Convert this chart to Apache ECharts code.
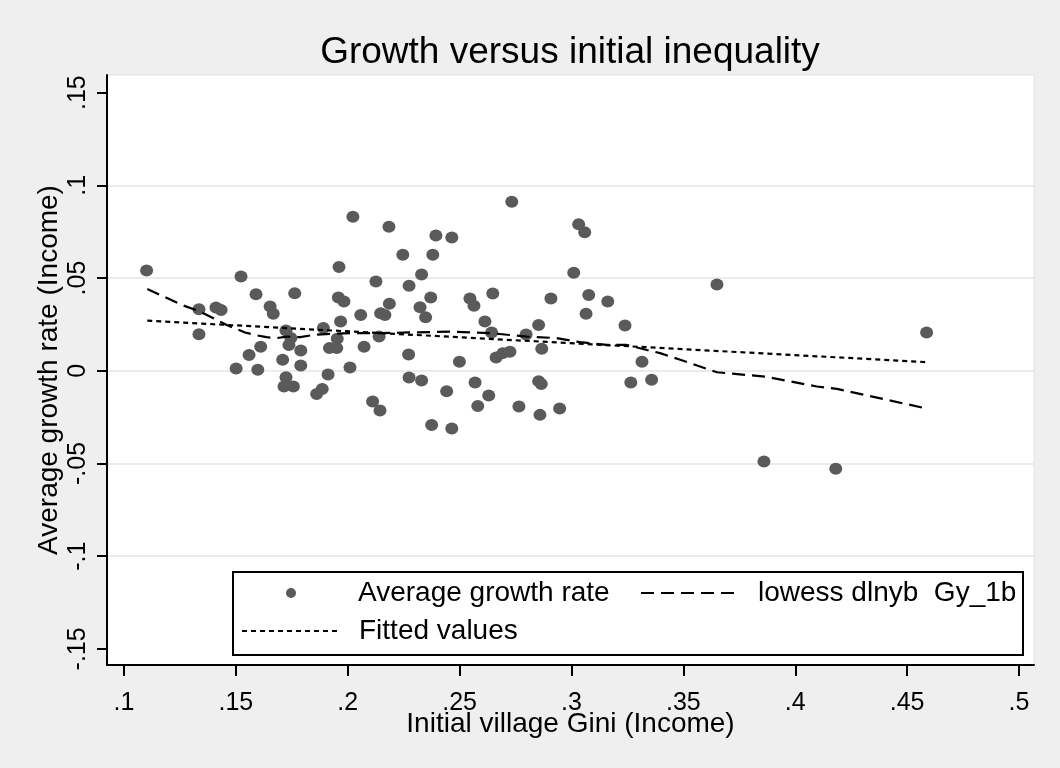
<!DOCTYPE html>
<html>
<head>
<meta charset="utf-8">
<script src="https://cdn.jsdelivr.net/npm/echarts@6/dist/echarts.min.js"></script>
<style>
  html, body { margin: 0; padding: 0; background: #efefef; }
  #chart { width: 1060px; height: 768px; }
</style>
</head>
<body>
<div id="chart"></div>
<script>
// Village observations: initial Gini (x) and average income growth (y)
const giniX = [
  0.1101, 0.1335, 0.1335, 0.1411, 0.1434, 0.1523, 0.1590, 0.1653, 0.1667, 0.1763,
  0.1961, 0.1958, 0.1983, 0.2126, 0.2186, 0.2058, 0.2147, 0.2166, 0.1968, 0.1724,
  0.1746, 0.1737, 0.1891, 0.1953, 0.1918, 0.1951, 0.2140, 0.2073, 0.1611, 0.1790,
  0.1559, 0.1709, 0.1790, 0.1501, 0.1598, 0.2010, 0.1724, 0.1715, 0.1757, 0.1912,
  0.1886, 0.1861, 0.2111, 0.2144, 0.2733, 0.3032, 0.3059, 0.2394, 0.2465, 0.2246,
  0.2380, 0.2330, 0.3010, 0.2274, 0.2371, 0.2323, 0.2348, 0.2546, 0.2564, 0.2648,
  0.2613, 0.2643, 0.2908, 0.3077, 0.3162, 0.3065, 0.3239, 0.2853, 0.2797, 0.2867,
  0.2272, 0.2499, 0.2663, 0.2693, 0.2725, 0.3315, 0.2274, 0.2330, 0.2442, 0.2569,
  0.2630, 0.2581, 0.2853, 0.2865, 0.2765, 0.2859, 0.2947, 0.3265, 0.3358, 0.2375,
  0.2465, 0.3650, 0.4587, 0.3860, 0.4181, 0.2023, 0.2184
];
const growthY = [
  0.0540, 0.0332, 0.0197, 0.0341, 0.0328, 0.0508, 0.0413, 0.0346, 0.0307, 0.0418,
  0.0559, 0.0395, 0.0373, 0.0481, 0.0361, 0.0301, 0.0310, 0.0301, 0.0265, 0.0217,
  0.0176, 0.0139, 0.0230, 0.0172, 0.0122, 0.0122, 0.0184, 0.0130, 0.0130, 0.0109,
  0.0085, 0.0059, 0.0028, 0.0012, 0.0005, 0.0017, -0.0035, -0.0085, -0.0085, -0.0020,
  -0.0098, -0.0125, -0.0166, -0.0215, 0.0912, 0.0790, 0.0747, 0.0729, 0.0718, 0.0626,
  0.0626, 0.0519, 0.0529, 0.0458, 0.0395, 0.0343, 0.0289, 0.0389, 0.0350, 0.0416,
  0.0265, 0.0206, 0.0389, 0.0409, 0.0373, 0.0307, 0.0244, 0.0247, 0.0195, 0.0119,
  0.0087, 0.0049, 0.0071, 0.0095, 0.0102, 0.0049, -0.0037, -0.0053, -0.0110, -0.0064,
  -0.0134, -0.0190, -0.0056, -0.0071, -0.0193, -0.0238, -0.0204, -0.0064, -0.0048, -0.0292,
  -0.0312, 0.0465, 0.0206, -0.0490, -0.0528, 0.0830, 0.0776
];

// Lowess smoother of growth on initial Gini
const lowessX = [
  0.1104, 0.1258, 0.1340, 0.1459, 0.1541, 0.1585, 0.1637, 0.1682, 0.1727, 0.1787,
  0.1846, 0.1921, 0.2010, 0.2144, 0.2457, 0.2636, 0.2800, 0.2934, 0.3038, 0.3158,
  0.3247, 0.3337, 0.3396, 0.3486, 0.3650, 0.3866, 0.4097, 0.4186, 0.4596
];
const lowessY = [
  0.0441, 0.0355, 0.0319, 0.0247, 0.0206, 0.0193, 0.0181, 0.0176, 0.0184, 0.0181,
  0.0193, 0.0199, 0.0203, 0.0203, 0.0211, 0.0203, 0.0184, 0.0176, 0.0154, 0.0139,
  0.0139, 0.0112, 0.0095, 0.0059, -0.0008, -0.0032, -0.0085, -0.0098, -0.0206
];

// Linear fit (fitted values at the ends of the Gini range)
const fitX = [0.1104, 0.4596];
const fitY = [0.0270, 0.0046];

// Axis ticks and their labels
const xTicks = [0.1, 0.15, 0.2, 0.25, 0.3, 0.35, 0.4, 0.45, 0.5];
const xTickLabels = ['.1', '.15', '.2', '.25', '.3', '.35', '.4', '.45', '.5'];
const yTicks = [-0.15, -0.1, -0.05, 0, 0.05, 0.1, 0.15];
const yTickLabels = ['-.15', '-.1', '-.05', '0', '.05', '.1', '.15'];

const FONT = '"Liberation Sans", Arial, Helvetica, sans-serif';

function tickText(ticks, labels) {
  return function (v) {
    for (let i = 0; i < ticks.length; i++) {
      if (Math.abs(ticks[i] - v) < 1e-9) return labels[i];
    }
    return '';
  };
}

const zip = (xs, ys) => xs.map((x, i) => [x, ys[i]]);

// grid lines only on the inner ticks, not on the +/-.15 ends
const gridColors = yTicks.map((t, i) =>
  (i === 0 || i === yTicks.length - 1) ? 'rgba(0,0,0,0)' : '#e4e4e4');

const legendText = { fontFamily: FONT, fontSize: 28, color: '#000', lineHeight: 30 };
const hiddenSymbol = { color: 'rgba(0,0,0,0)', borderWidth: 0, opacity: 0 };

const chart = echarts.init(document.getElementById('chart'), null, { renderer: 'canvas' });

chart.setOption({
  animation: false,
  backgroundColor: '#efefef',
  textStyle: { fontFamily: FONT, color: '#000' },
  title: {
    text: 'Growth versus initial inequality',
    left: 570,
    top: 34,
    padding: 0,
    textAlign: 'center',
    textStyle: { fontFamily: FONT, fontSize: 37, fontWeight: 'normal', color: '#000' }
  },
  grid: {
    left: 107, right: 26, top: 75, bottom: 103,
    show: true,
    backgroundColor: '#ffffff',
    borderColor: '#e3e3e3',
    borderWidth: 1
  },
  xAxis: {
    type: 'value',
    min: 0.0924,
    max: 0.5067,
    name: 'Initial village Gini (Income)',
    nameLocation: 'middle',
    nameGap: 45,
    nameMoveOverlap: false,
    nameTextStyle: { fontFamily: FONT, fontSize: 28, color: '#000' },
    axisLine: { show: true, onZero: false, lineStyle: { color: '#000', width: 2 } },
    axisTick: { show: true, length: 11, lineStyle: { color: '#000', width: 2 }, customValues: xTicks },
    axisLabel: {
      customValues: xTicks,
      margin: 26,
      fontFamily: FONT, fontSize: 25, color: '#000',
      formatter: tickText(xTicks, xTickLabels)
    },
    splitLine: { show: false }
  },
  yAxis: {
    type: 'value',
    min: -0.1587,
    max: 0.1595,
    name: 'Average growth rate (Income)',
    nameLocation: 'middle',
    nameGap: 44,
    nameMoveOverlap: false,
    nameTextStyle: { fontFamily: FONT, fontSize: 28, color: '#000' },
    axisLine: { show: true, onZero: false, lineStyle: { color: '#000', width: 2 } },
    axisTick: { show: true, length: 10, lineStyle: { color: '#000', width: 2 }, customValues: yTicks },
    axisLabel: {
      customValues: yTicks,
      rotate: 90,
      margin: 16,
      fontFamily: FONT, fontSize: 25, color: '#000',
      formatter: tickText(yTicks, yTickLabels)
    },
    splitLine: { show: true, lineStyle: { color: gridColors, width: 1.5 } }
  },
  graphic: [{
    type: 'rect',
    z: 3,
    shape: { x: 233, y: 572, width: 790, height: 83 },
    style: { fill: '#ffffff', stroke: '#000000', lineWidth: 2 }
  }],
  legend: [
    {
      data: ['Average growth rate'],
      left: 286, top: 578, padding: 0, z: 5,
      selectedMode: false,
      icon: 'circle',
      itemWidth: 10, itemHeight: 10,
      itemStyle: { color: '#5a5a5a' },
      textStyle: Object.assign({ padding: [0, 0, 0, 57] }, legendText)
    },
    {
      data: ['lowess dlnyb  Gy_1b'],
      left: 640, top: 578, padding: 0, z: 5,
      selectedMode: false,
      itemWidth: 100, itemHeight: 10,
      itemStyle: hiddenSymbol,
      lineStyle: { color: '#000', width: 2, type: [13, 7] },
      textStyle: Object.assign({ padding: [0, 0, 0, 12] }, legendText)
    },
    {
      data: ['Fitted values'],
      left: 241, top: 616, padding: 0, z: 5,
      selectedMode: false,
      itemWidth: 98, itemHeight: 10,
      itemStyle: hiddenSymbol,
      lineStyle: { color: '#000', width: 2, type: [5, 4] },
      textStyle: Object.assign({ padding: [0, 0, 0, 14] }, legendText)
    }
  ],
  series: [
    {
      name: 'Average growth rate',
      type: 'scatter',
      data: zip(giniX, growthY),
      symbol: 'circle',
      symbolSize: [13, 12],
      itemStyle: { color: '#5a5a5a', opacity: 1 },
      z: 2
    },
    {
      name: 'lowess dlnyb  Gy_1b',
      type: 'line',
      data: zip(lowessX, lowessY),
      symbol: 'none',
      lineStyle: { color: '#000', width: 2.2, type: [13, 7] },
      z: 3
    },
    {
      name: 'Fitted values',
      type: 'line',
      data: zip(fitX, fitY),
      symbol: 'none',
      lineStyle: { color: '#000', width: 2.2, type: [5, 4] },
      z: 3
    }
  ]
});
</script>
</body>
</html>
